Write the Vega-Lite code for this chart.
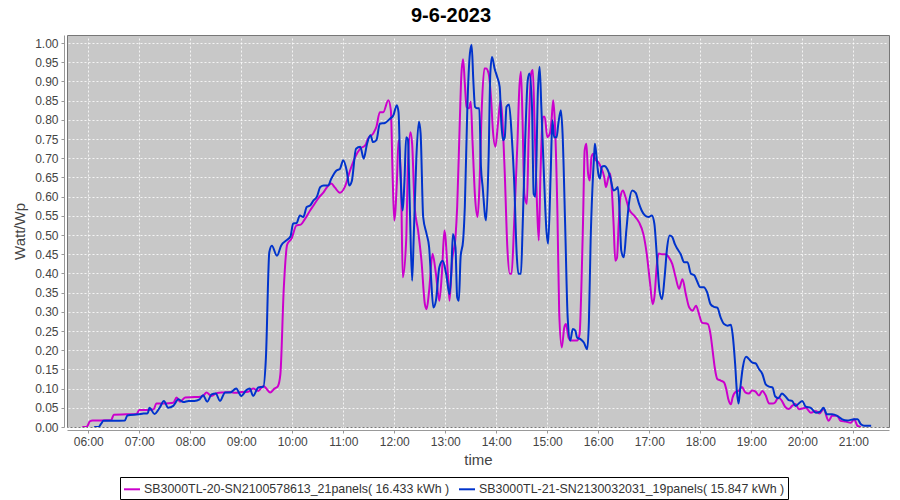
{
  "$schema": "https://vega.github.io/schema/vega-lite/v6.json",
  "width": 822,
  "height": 392,
  "autosize": {"type": "none"},
  "padding": {"left": 67, "top": 35, "right": 11, "bottom": 73},
  "background": "white",
  "title": {
    "text": "9-6-2023",
    "font": "Liberation Sans",
    "fontSize": 20,
    "fontWeight": "bold",
    "color": "#000000",
    "anchor": "middle",
    "frame": "group",
    "dx": -27,
    "offset": 9
  },
  "data": {
    "format": {"parse": {"t": "date:'%H:%M'"}},
    "values": [
      {"t":"05:53","k":"m","v":0.0},{"t":"05:58","k":"m","v":0.0},{"t":"06:02","k":"m","v":0.015},{"t":"06:05","k":"m","v":0.017},{"t":"06:15","k":"m","v":0.017},{"t":"06:27","k":"m","v":0.018},{"t":"06:30","k":"m","v":0.032},{"t":"06:45","k":"m","v":0.033},{"t":"06:57","k":"m","v":0.034},{"t":"07:00","k":"m","v":0.044},{"t":"07:10","k":"m","v":0.044},{"t":"07:17","k":"m","v":0.046},{"t":"07:20","k":"m","v":0.061},{"t":"07:30","k":"m","v":0.061},{"t":"07:40","k":"m","v":0.063},{"t":"07:44","k":"m","v":0.077},{"t":"07:48","k":"m","v":0.066},{"t":"07:54","k":"m","v":0.077},{"t":"08:05","k":"m","v":0.078},{"t":"08:12","k":"m","v":0.079},{"t":"08:16","k":"m","v":0.083},{"t":"08:19","k":"m","v":0.09},{"t":"08:25","k":"m","v":0.081},{"t":"08:31","k":"m","v":0.088},{"t":"08:39","k":"m","v":0.09},{"t":"08:47","k":"m","v":0.091},{"t":"08:53","k":"m","v":0.089},{"t":"09:00","k":"m","v":0.091},{"t":"09:08","k":"m","v":0.092},{"t":"09:14","k":"m","v":0.1},{"t":"09:20","k":"m","v":0.094},{"t":"09:26","k":"m","v":0.107},{"t":"09:34","k":"m","v":0.09},{"t":"09:39","k":"m","v":0.1},{"t":"09:43","k":"m","v":0.106},{"t":"09:46","k":"m","v":0.137},{"t":"09:50","k":"m","v":0.36},{"t":"09:54","k":"m","v":0.475},{"t":"09:59","k":"m","v":0.49},{"t":"10:05","k":"m","v":0.525},{"t":"10:10","k":"m","v":0.527},{"t":"10:15","k":"m","v":0.542},{"t":"10:21","k":"m","v":0.564},{"t":"10:25","k":"m","v":0.577},{"t":"10:31","k":"m","v":0.597},{"t":"10:37","k":"m","v":0.612},{"t":"10:41","k":"m","v":0.625},{"t":"10:46","k":"m","v":0.634},{"t":"10:50","k":"m","v":0.624},{"t":"10:56","k":"m","v":0.61},{"t":"11:02","k":"m","v":0.626},{"t":"11:08","k":"m","v":0.668},{"t":"11:14","k":"m","v":0.703},{"t":"11:20","k":"m","v":0.725},{"t":"11:26","k":"m","v":0.734},{"t":"11:29","k":"m","v":0.751},{"t":"11:35","k":"m","v":0.764},{"t":"11:39","k":"m","v":0.782},{"t":"11:43","k":"m","v":0.82},{"t":"11:47","k":"m","v":0.82},{"t":"11:53","k":"m","v":0.851},{"t":"11:56","k":"m","v":0.825},{"t":"11:58","k":"m","v":0.66},{"t":"12:00","k":"m","v":0.538},{"t":"12:03","k":"m","v":0.634},{"t":"12:05","k":"m","v":0.747},{"t":"12:08","k":"m","v":0.634},{"t":"12:10","k":"m","v":0.39},{"t":"12:14","k":"m","v":0.486},{"t":"12:16","k":"m","v":0.677},{"t":"12:19","k":"m","v":0.768},{"t":"12:21","k":"m","v":0.738},{"t":"12:24","k":"m","v":0.573},{"t":"12:28","k":"m","v":0.512},{"t":"12:32","k":"m","v":0.433},{"t":"12:36","k":"m","v":0.32},{"t":"12:38","k":"m","v":0.307},{"t":"12:41","k":"m","v":0.355},{"t":"12:45","k":"m","v":0.451},{"t":"12:49","k":"m","v":0.399},{"t":"12:53","k":"m","v":0.329},{"t":"12:56","k":"m","v":0.399},{"t":"12:59","k":"m","v":0.512},{"t":"13:03","k":"m","v":0.399},{"t":"13:05","k":"m","v":0.329},{"t":"13:08","k":"m","v":0.433},{"t":"13:12","k":"m","v":0.494},{"t":"13:14","k":"m","v":0.573},{"t":"13:17","k":"m","v":0.79},{"t":"13:19","k":"m","v":0.92},{"t":"13:21","k":"m","v":0.958},{"t":"13:23","k":"m","v":0.895},{"t":"13:25","k":"m","v":0.834},{"t":"13:28","k":"m","v":0.83},{"t":"13:30","k":"m","v":0.847},{"t":"13:32","k":"m","v":0.747},{"t":"13:35","k":"m","v":0.6},{"t":"13:38","k":"m","v":0.547},{"t":"13:40","k":"m","v":0.616},{"t":"13:43","k":"m","v":0.834},{"t":"13:46","k":"m","v":0.934},{"t":"13:48","k":"m","v":0.934},{"t":"13:51","k":"m","v":0.921},{"t":"13:54","k":"m","v":0.851},{"t":"13:56","k":"m","v":0.773},{"t":"13:59","k":"m","v":0.73},{"t":"14:02","k":"m","v":0.79},{"t":"14:05","k":"m","v":0.851},{"t":"14:07","k":"m","v":0.808},{"t":"14:10","k":"m","v":0.66},{"t":"14:13","k":"m","v":0.468},{"t":"14:16","k":"m","v":0.399},{"t":"14:18","k":"m","v":0.399},{"t":"14:21","k":"m","v":0.529},{"t":"14:25","k":"m","v":0.747},{"t":"14:27","k":"m","v":0.877},{"t":"14:29","k":"m","v":0.925},{"t":"14:31","k":"m","v":0.79},{"t":"14:33","k":"m","v":0.607},{"t":"14:36","k":"m","v":0.581},{"t":"14:38","k":"m","v":0.747},{"t":"14:41","k":"m","v":0.921},{"t":"14:43","k":"m","v":0.93},{"t":"14:45","k":"m","v":0.79},{"t":"14:48","k":"m","v":0.573},{"t":"14:50","k":"m","v":0.486},{"t":"14:52","k":"m","v":0.66},{"t":"14:55","k":"m","v":0.808},{"t":"14:57","k":"m","v":0.808},{"t":"15:00","k":"m","v":0.755},{"t":"15:03","k":"m","v":0.764},{"t":"15:05","k":"m","v":0.799},{"t":"15:07","k":"m","v":0.851},{"t":"15:09","k":"m","v":0.79},{"t":"15:12","k":"m","v":0.55},{"t":"15:14","k":"m","v":0.3},{"t":"15:17","k":"m","v":0.207},{"t":"15:20","k":"m","v":0.259},{"t":"15:22","k":"m","v":0.268},{"t":"15:25","k":"m","v":0.233},{"t":"15:28","k":"m","v":0.225},{"t":"15:32","k":"m","v":0.225},{"t":"15:35","k":"m","v":0.225},{"t":"15:38","k":"m","v":0.242},{"t":"15:40","k":"m","v":0.355},{"t":"15:42","k":"m","v":0.529},{"t":"15:44","k":"m","v":0.721},{"t":"15:46","k":"m","v":0.738},{"t":"15:48","k":"m","v":0.66},{"t":"15:50","k":"m","v":0.642},{"t":"15:52","k":"m","v":0.703},{"t":"15:54","k":"m","v":0.712},{"t":"15:57","k":"m","v":0.695},{"t":"16:00","k":"m","v":0.69},{"t":"16:03","k":"m","v":0.677},{"t":"16:07","k":"m","v":0.651},{"t":"16:09","k":"m","v":0.625},{"t":"16:12","k":"m","v":0.651},{"t":"16:14","k":"m","v":0.66},{"t":"16:16","k":"m","v":0.616},{"t":"16:18","k":"m","v":0.529},{"t":"16:20","k":"m","v":0.433},{"t":"16:22","k":"m","v":0.44},{"t":"16:24","k":"m","v":0.529},{"t":"16:26","k":"m","v":0.599},{"t":"16:29","k":"m","v":0.616},{"t":"16:32","k":"m","v":0.599},{"t":"16:36","k":"m","v":0.568},{"t":"16:42","k":"m","v":0.551},{"t":"16:48","k":"m","v":0.533},{"t":"16:53","k":"m","v":0.503},{"t":"16:57","k":"m","v":0.451},{"t":"17:01","k":"m","v":0.373},{"t":"17:04","k":"m","v":0.32},{"t":"17:06","k":"m","v":0.338},{"t":"17:09","k":"m","v":0.425},{"t":"17:11","k":"m","v":0.452},{"t":"17:15","k":"m","v":0.45},{"t":"17:19","k":"m","v":0.45},{"t":"17:23","k":"m","v":0.442},{"t":"17:27","k":"m","v":0.425},{"t":"17:31","k":"m","v":0.39},{"t":"17:35","k":"m","v":0.36},{"t":"17:39","k":"m","v":0.385},{"t":"17:43","k":"m","v":0.346},{"t":"17:47","k":"m","v":0.311},{"t":"17:51","k":"m","v":0.303},{"t":"17:55","k":"m","v":0.316},{"t":"17:58","k":"m","v":0.298},{"t":"18:02","k":"m","v":0.272},{"t":"18:09","k":"m","v":0.268},{"t":"18:12","k":"m","v":0.242},{"t":"18:15","k":"m","v":0.19},{"t":"18:17","k":"m","v":0.155},{"t":"18:20","k":"m","v":0.125},{"t":"18:24","k":"m","v":0.121},{"t":"18:28","k":"m","v":0.116},{"t":"18:31","k":"m","v":0.094},{"t":"18:33","k":"m","v":0.072},{"t":"18:36","k":"m","v":0.059},{"t":"18:38","k":"m","v":0.077},{"t":"18:42","k":"m","v":0.092},{"t":"18:45","k":"m","v":0.094},{"t":"18:49","k":"m","v":0.104},{"t":"18:53","k":"m","v":0.09},{"t":"18:57","k":"m","v":0.087},{"t":"19:01","k":"m","v":0.095},{"t":"19:05","k":"m","v":0.092},{"t":"19:09","k":"m","v":0.082},{"t":"19:13","k":"m","v":0.094},{"t":"19:17","k":"m","v":0.082},{"t":"19:21","k":"m","v":0.061},{"t":"19:25","k":"m","v":0.061},{"t":"19:28","k":"m","v":0.064},{"t":"19:32","k":"m","v":0.077},{"t":"19:36","k":"m","v":0.068},{"t":"19:40","k":"m","v":0.052},{"t":"19:44","k":"m","v":0.047},{"t":"19:48","k":"m","v":0.055},{"t":"19:52","k":"m","v":0.06},{"t":"19:56","k":"m","v":0.046},{"t":"20:04","k":"m","v":0.05},{"t":"20:10","k":"m","v":0.037},{"t":"20:16","k":"m","v":0.042},{"t":"20:20","k":"m","v":0.035},{"t":"20:25","k":"m","v":0.046},{"t":"20:31","k":"m","v":0.016},{"t":"20:35","k":"m","v":0.029},{"t":"20:41","k":"m","v":0.029},{"t":"20:45","k":"m","v":0.016},{"t":"20:51","k":"m","v":0.014},{"t":"20:57","k":"m","v":0.011},{"t":"21:01","k":"m","v":0.02},{"t":"21:05","k":"m","v":0.003},{"t":"21:09","k":"m","v":0.0},
      {"t":"06:07","k":"b","v":0.0},{"t":"06:12","k":"b","v":0.0},{"t":"06:15","k":"b","v":0.008},{"t":"06:18","k":"b","v":0.016},{"t":"06:30","k":"b","v":0.016},{"t":"06:43","k":"b","v":0.017},{"t":"06:46","k":"b","v":0.03},{"t":"06:59","k":"b","v":0.033},{"t":"07:05","k":"b","v":0.035},{"t":"07:10","k":"b","v":0.036},{"t":"07:12","k":"b","v":0.05},{"t":"07:18","k":"b","v":0.034},{"t":"07:24","k":"b","v":0.05},{"t":"07:29","k":"b","v":0.068},{"t":"07:34","k":"b","v":0.05},{"t":"07:40","k":"b","v":0.055},{"t":"07:46","k":"b","v":0.072},{"t":"07:52","k":"b","v":0.065},{"t":"07:58","k":"b","v":0.068},{"t":"08:05","k":"b","v":0.068},{"t":"08:11","k":"b","v":0.072},{"t":"08:15","k":"b","v":0.083},{"t":"08:20","k":"b","v":0.066},{"t":"08:25","k":"b","v":0.085},{"t":"08:30","k":"b","v":0.087},{"t":"08:35","k":"b","v":0.068},{"t":"08:41","k":"b","v":0.09},{"t":"08:47","k":"b","v":0.09},{"t":"08:54","k":"b","v":0.1},{"t":"09:00","k":"b","v":0.081},{"t":"09:06","k":"b","v":0.096},{"t":"09:10","k":"b","v":0.1},{"t":"09:14","k":"b","v":0.081},{"t":"09:20","k":"b","v":0.103},{"t":"09:26","k":"b","v":0.105},{"t":"09:29","k":"b","v":0.18},{"t":"09:33","k":"b","v":0.455},{"t":"09:36","k":"b","v":0.472},{"t":"09:42","k":"b","v":0.446},{"t":"09:47","k":"b","v":0.473},{"t":"09:53","k":"b","v":0.486},{"t":"09:58","k":"b","v":0.497},{"t":"10:01","k":"b","v":0.53},{"t":"10:05","k":"b","v":0.531},{"t":"10:09","k":"b","v":0.551},{"t":"10:13","k":"b","v":0.547},{"t":"10:17","k":"b","v":0.573},{"t":"10:21","k":"b","v":0.577},{"t":"10:25","k":"b","v":0.59},{"t":"10:29","k":"b","v":0.6},{"t":"10:33","k":"b","v":0.625},{"t":"10:37","k":"b","v":0.629},{"t":"10:42","k":"b","v":0.629},{"t":"10:46","k":"b","v":0.647},{"t":"10:52","k":"b","v":0.668},{"t":"10:56","k":"b","v":0.672},{"t":"11:00","k":"b","v":0.695},{"t":"11:04","k":"b","v":0.668},{"t":"11:07","k":"b","v":0.629},{"t":"11:10","k":"b","v":0.64},{"t":"11:15","k":"b","v":0.725},{"t":"11:20","k":"b","v":0.73},{"t":"11:24","k":"b","v":0.699},{"t":"11:28","k":"b","v":0.738},{"t":"11:32","k":"b","v":0.76},{"t":"11:35","k":"b","v":0.742},{"t":"11:39","k":"b","v":0.747},{"t":"11:43","k":"b","v":0.79},{"t":"11:49","k":"b","v":0.792},{"t":"11:55","k":"b","v":0.803},{"t":"11:59","k":"b","v":0.812},{"t":"12:03","k":"b","v":0.838},{"t":"12:05","k":"b","v":0.82},{"t":"12:07","k":"b","v":0.677},{"t":"12:10","k":"b","v":0.564},{"t":"12:12","k":"b","v":0.642},{"t":"12:14","k":"b","v":0.755},{"t":"12:16","k":"b","v":0.75},{"t":"12:18","k":"b","v":0.6},{"t":"12:21","k":"b","v":0.381},{"t":"12:23","k":"b","v":0.503},{"t":"12:26","k":"b","v":0.703},{"t":"12:29","k":"b","v":0.795},{"t":"12:31","k":"b","v":0.764},{"t":"12:34","k":"b","v":0.547},{"t":"12:38","k":"b","v":0.503},{"t":"12:41","k":"b","v":0.468},{"t":"12:43","k":"b","v":0.399},{"t":"12:46","k":"b","v":0.311},{"t":"12:49","k":"b","v":0.329},{"t":"12:53","k":"b","v":0.416},{"t":"12:57","k":"b","v":0.433},{"t":"13:01","k":"b","v":0.399},{"t":"13:05","k":"b","v":0.346},{"t":"13:07","k":"b","v":0.399},{"t":"13:09","k":"b","v":0.503},{"t":"13:12","k":"b","v":0.468},{"t":"13:14","k":"b","v":0.338},{"t":"13:16","k":"b","v":0.329},{"t":"13:18","k":"b","v":0.442},{"t":"13:21","k":"b","v":0.486},{"t":"13:23","k":"b","v":0.573},{"t":"13:26","k":"b","v":0.834},{"t":"13:29","k":"b","v":0.973},{"t":"13:31","k":"b","v":0.995},{"t":"13:33","k":"b","v":0.903},{"t":"13:35","k":"b","v":0.834},{"t":"13:38","k":"b","v":0.83},{"t":"13:40","k":"b","v":0.83},{"t":"13:42","k":"b","v":0.677},{"t":"13:44","k":"b","v":0.625},{"t":"13:47","k":"b","v":0.547},{"t":"13:48","k":"b","v":0.538},{"t":"13:51","k":"b","v":0.703},{"t":"13:53","k":"b","v":0.921},{"t":"13:55","k":"b","v":0.964},{"t":"13:58","k":"b","v":0.934},{"t":"14:01","k":"b","v":0.912},{"t":"14:04","k":"b","v":0.886},{"t":"14:06","k":"b","v":0.79},{"t":"14:08","k":"b","v":0.747},{"t":"14:10","k":"b","v":0.755},{"t":"14:12","k":"b","v":0.834},{"t":"14:15","k":"b","v":0.84},{"t":"14:18","k":"b","v":0.764},{"t":"14:21","k":"b","v":0.642},{"t":"14:24","k":"b","v":0.451},{"t":"14:26","k":"b","v":0.399},{"t":"14:29","k":"b","v":0.399},{"t":"14:31","k":"b","v":0.52},{"t":"14:34","k":"b","v":0.747},{"t":"14:37","k":"b","v":0.903},{"t":"14:39","k":"b","v":0.921},{"t":"14:42","k":"b","v":0.834},{"t":"14:44","k":"b","v":0.607},{"t":"14:46","k":"b","v":0.6},{"t":"14:49","k":"b","v":0.877},{"t":"14:51","k":"b","v":0.938},{"t":"14:53","k":"b","v":0.834},{"t":"14:56","k":"b","v":0.66},{"t":"14:59","k":"b","v":0.512},{"t":"15:01","k":"b","v":0.477},{"t":"15:04","k":"b","v":0.66},{"t":"15:06","k":"b","v":0.799},{"t":"15:08","k":"b","v":0.755},{"t":"15:11","k":"b","v":0.755},{"t":"15:13","k":"b","v":0.79},{"t":"15:16","k":"b","v":0.825},{"t":"15:18","k":"b","v":0.764},{"t":"15:21","k":"b","v":0.529},{"t":"15:24","k":"b","v":0.285},{"t":"15:27","k":"b","v":0.225},{"t":"15:30","k":"b","v":0.255},{"t":"15:33","k":"b","v":0.251},{"t":"15:35","k":"b","v":0.233},{"t":"15:39","k":"b","v":0.229},{"t":"15:43","k":"b","v":0.22},{"t":"15:47","k":"b","v":0.203},{"t":"15:49","k":"b","v":0.277},{"t":"15:51","k":"b","v":0.486},{"t":"15:53","k":"b","v":0.616},{"t":"15:55","k":"b","v":0.703},{"t":"15:56","k":"b","v":0.738},{"t":"15:58","k":"b","v":0.703},{"t":"16:00","k":"b","v":0.66},{"t":"16:02","k":"b","v":0.647},{"t":"16:04","k":"b","v":0.677},{"t":"16:07","k":"b","v":0.68},{"t":"16:11","k":"b","v":0.67},{"t":"16:14","k":"b","v":0.651},{"t":"16:18","k":"b","v":0.616},{"t":"16:21","k":"b","v":0.62},{"t":"16:23","k":"b","v":0.625},{"t":"16:25","k":"b","v":0.564},{"t":"16:27","k":"b","v":0.46},{"t":"16:30","k":"b","v":0.442},{"t":"16:33","k":"b","v":0.512},{"t":"16:36","k":"b","v":0.581},{"t":"16:40","k":"b","v":0.616},{"t":"16:44","k":"b","v":0.61},{"t":"16:48","k":"b","v":0.581},{"t":"16:51","k":"b","v":0.564},{"t":"16:55","k":"b","v":0.551},{"t":"16:59","k":"b","v":0.547},{"t":"17:03","k":"b","v":0.551},{"t":"17:06","k":"b","v":0.529},{"t":"17:09","k":"b","v":0.442},{"t":"17:12","k":"b","v":0.355},{"t":"17:15","k":"b","v":0.333},{"t":"17:18","k":"b","v":0.39},{"t":"17:21","k":"b","v":0.468},{"t":"17:24","k":"b","v":0.499},{"t":"17:27","k":"b","v":0.495},{"t":"17:30","k":"b","v":0.477},{"t":"17:33","k":"b","v":0.464},{"t":"17:37","k":"b","v":0.45},{"t":"17:41","k":"b","v":0.429},{"t":"17:45","k":"b","v":0.429},{"t":"17:49","k":"b","v":0.399},{"t":"17:53","k":"b","v":0.395},{"t":"17:56","k":"b","v":0.381},{"t":"18:00","k":"b","v":0.364},{"t":"18:04","k":"b","v":0.364},{"t":"18:08","k":"b","v":0.351},{"t":"18:12","k":"b","v":0.32},{"t":"18:16","k":"b","v":0.313},{"t":"18:20","k":"b","v":0.311},{"t":"18:24","k":"b","v":0.285},{"t":"18:28","k":"b","v":0.268},{"t":"18:32","k":"b","v":0.264},{"t":"18:36","k":"b","v":0.266},{"t":"18:38","k":"b","v":0.242},{"t":"18:41","k":"b","v":0.164},{"t":"18:43","k":"b","v":0.094},{"t":"18:45","k":"b","v":0.061},{"t":"18:47","k":"b","v":0.1},{"t":"18:50","k":"b","v":0.155},{"t":"18:54","k":"b","v":0.183},{"t":"18:58","k":"b","v":0.175},{"t":"19:01","k":"b","v":0.168},{"t":"19:05","k":"b","v":0.166},{"t":"19:09","k":"b","v":0.151},{"t":"19:13","k":"b","v":0.138},{"t":"19:17","k":"b","v":0.111},{"t":"19:21","k":"b","v":0.105},{"t":"19:25","k":"b","v":0.103},{"t":"19:28","k":"b","v":0.08},{"t":"19:32","k":"b","v":0.075},{"t":"19:36","k":"b","v":0.087},{"t":"19:40","k":"b","v":0.08},{"t":"19:44","k":"b","v":0.07},{"t":"19:48","k":"b","v":0.068},{"t":"19:52","k":"b","v":0.055},{"t":"20:00","k":"b","v":0.068},{"t":"20:04","k":"b","v":0.053},{"t":"20:10","k":"b","v":0.05},{"t":"20:16","k":"b","v":0.037},{"t":"20:21","k":"b","v":0.04},{"t":"20:25","k":"b","v":0.05},{"t":"20:29","k":"b","v":0.033},{"t":"20:35","k":"b","v":0.033},{"t":"20:41","k":"b","v":0.029},{"t":"20:47","k":"b","v":0.02},{"t":"20:53","k":"b","v":0.017},{"t":"21:01","k":"b","v":0.02},{"t":"21:05","k":"b","v":0.02},{"t":"21:09","k":"b","v":0.007},{"t":"21:13","k":"b","v":0.003},{"t":"21:21","k":"b","v":0.003}
    ]
  },
  "mark": {"type": "line", "interpolate": "monotone", "strokeWidth": 2, "clip": true},
  "encoding": {
    "x": {
      "field": "t",
      "type": "temporal",
      "title": "time",
      "scale": {
        "domain": [
          {"year": 1900, "month": 1, "date": 1, "hours": 5, "minutes": 35},
          {"year": 1900, "month": 1, "date": 1, "hours": 21, "minutes": 42}
        ],
        "nice": false
      },
      "axis": {
        "format": "%H:%M",
        "values": [
          {"year": 1900, "month": 1, "date": 1, "hours": 6},
          {"year": 1900, "month": 1, "date": 1, "hours": 7},
          {"year": 1900, "month": 1, "date": 1, "hours": 8},
          {"year": 1900, "month": 1, "date": 1, "hours": 9},
          {"year": 1900, "month": 1, "date": 1, "hours": 10},
          {"year": 1900, "month": 1, "date": 1, "hours": 11},
          {"year": 1900, "month": 1, "date": 1, "hours": 12},
          {"year": 1900, "month": 1, "date": 1, "hours": 13},
          {"year": 1900, "month": 1, "date": 1, "hours": 14},
          {"year": 1900, "month": 1, "date": 1, "hours": 15},
          {"year": 1900, "month": 1, "date": 1, "hours": 16},
          {"year": 1900, "month": 1, "date": 1, "hours": 17},
          {"year": 1900, "month": 1, "date": 1, "hours": 18},
          {"year": 1900, "month": 1, "date": 1, "hours": 19},
          {"year": 1900, "month": 1, "date": 1, "hours": 20},
          {"year": 1900, "month": 1, "date": 1, "hours": 21}
        ],
        "labelFlush": false,
        "labelOverlap": false
      }
    },
    "y": {
      "field": "v",
      "type": "quantitative",
      "title": "Watt/Wp",
      "scale": {"domain": [0, 1.021], "nice": false, "zero": false},
      "axis": {
        "values": [0,0.05,0.1,0.15,0.2,0.25,0.3,0.35,0.4,0.45,0.5,0.55,0.6,0.65,0.7,0.75,0.8,0.85,0.9,0.95,1.0],
        "format": ".2f"
      }
    },
    "color": {
      "field": "k",
      "type": "nominal",
      "scale": {"domain": ["m", "b"], "range": ["#cc00cc", "#0033cc"]},
      "legend": {
        "title": null,
        "orient": "none",
        "legendX": 53,
        "legendY": 442,
        "direction": "horizontal",
        "strokeColor": "#000000",
        "fillColor": "#ffffff",
        "padding": 3,
        "columnPadding": 5,
        "symbolType": "stroke",
        "symbolSize": 256,
        "symbolStrokeWidth": 2,
        "labelFont": "Liberation Sans",
        "labelFontSize": 12.4,
        "labelColor": "#333333",
        "labelOffset": 3,
        "labelLimit": 400,
        "labelExpr": "datum.value == 'm' ? 'SB3000TL-20-SN2100578613_21panels( 16.433 kWh )' : 'SB3000TL-21-SN2130032031_19panels( 15.847 kWh )'"
      }
    }
  },
  "config": {
    "view": {"fill": "#c8c8c8", "stroke": "#777777", "strokeWidth": 1},
    "axis": {
      "labelFont": "Liberation Sans",
      "labelFontSize": 12,
      "labelColor": "#444444",
      "titleFont": "Liberation Sans",
      "titleFontSize": 15,
      "titleFontWeight": "normal",
      "titleColor": "#444444",
      "domainColor": "#999999",
      "tickColor": "#999999",
      "tickSize": 3,
      "offset": 3,
      "grid": true,
      "gridColor": "#ffffff",
      "gridDash": [2, 2],
      "gridWidth": 0.8,
      "gridOpacity": 1
    },
    "axisX": {"labelPadding": 3, "titlePadding": 5},
    "axisY": {"labelPadding": 3, "titlePadding": 7}
  }
}
